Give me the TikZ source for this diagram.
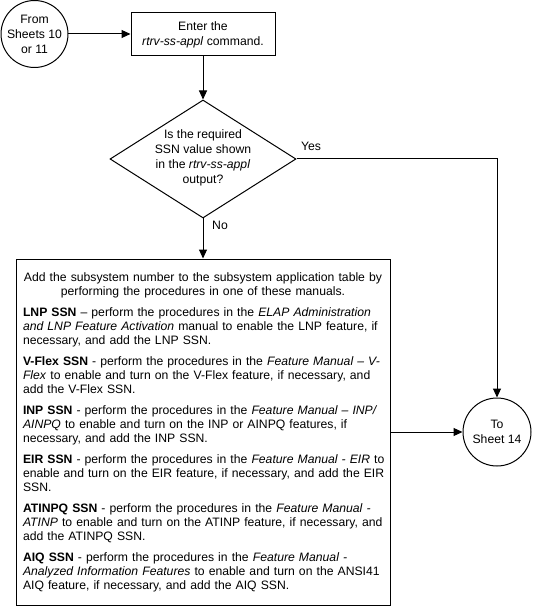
\documentclass[tikz,border=0pt]{standalone}
\usepackage{fontspec}
\setmainfont{Liberation Sans}
\usetikzlibrary{arrows.meta,shapes.geometric}
\begin{document}
\begin{tikzpicture}[x=1pt,y=-1pt,
  every node/.style={font=\fontsize{12.2}{15}\selectfont},
  arr/.style={line width=1pt,-{Triangle[length=9pt,width=8pt]}},
  conn/.style={draw,circle,line width=1pt,minimum size=66pt,inner sep=0pt,align=center},
  proc/.style={draw,rectangle,line width=1pt,minimum width=144pt,minimum height=43pt,inner sep=0pt,align=center},
  dec/.style={draw,diamond,line width=1pt,minimum width=186pt,minimum height=118pt,inner sep=0pt},
  txt/.style={inner sep=0pt,align=center},
  big/.style={draw,rectangle,line width=1pt,text width=372pt,inner xsep=1pt,inner ysep=0pt,minimum height=346pt,font=\fontsize{12.2}{14}\selectfont}
]
\useasboundingbox (0,0) rectangle (532,609);
\node[conn] (from) at (34.5,34) {From\\Sheets 10\\or 11};
\node[proc] (enter) at (203,34.5) {Enter the\\\textit{rtrv-ss-appl} command.};
\node[dec] (dec) at (203,159) {};
\node[txt] (dectext) at (203,157.5) {Is the required\\SSN value shown\\in the \textit{rtrv-ss-appl}\\output?};
\node[big] (add) at (203,432) {\parindent=0pt\parskip=7pt
\centering Add the subsystem number to the subsystem application table by\\
performing the procedures in one of these manuals.\par
\raggedright\leftskip=6pt
\textbf{LNP SSN} – perform the procedures in the \textit{ELAP Administration}\\
\textit{and LNP Feature Activation} manual to enable the LNP feature, if\\
necessary, and add the LNP SSN.\par
\textbf{V-Flex SSN} - perform the procedures in the \textit{Feature Manual – V-}\\
\textit{Flex} to enable and turn on the V-Flex feature, if necessary, and\\
add the V-Flex SSN.\par
\textbf{INP SSN} - perform the procedures in the \textit{Feature Manual – INP/}\\
\textit{AINPQ} to enable and turn on the INP or AINPQ features, if\\
necessary, and add the INP SSN.\par
\textbf{EIR SSN} - perform the procedures in the \textit{Feature Manual - EIR} to\\
enable and turn on the EIR feature, if necessary, and add the EIR\\
SSN.\par
\textbf{ATINPQ SSN} - perform the procedures in the \textit{Feature Manual -}\\
\textit{ATINP} to enable and turn on the ATINP feature, if necessary, and\\
add the ATINPQ SSN.\par
\textbf{AIQ SSN} - perform the procedures in the \textit{Feature Manual -}\\
\textit{Analyzed Information Features} to enable and turn on the ANSI41\\
AIQ feature, if necessary, and add the AIQ SSN.\par};
\node[conn,minimum size=68pt] (to) at (497,432) {To\\Sheet 14};
\node[txt] (yes) at (311,146) {Yes};
\node[txt] (no) at (220,225) {No};
\draw[arr] (from.east) -- (from.east -| enter.west);
\draw[arr] (enter.south) -- (dec.north);
\draw[arr] (dec.south) -- (add.north);
\draw[arr] (dec.east) -| (to.north);
\draw[arr] (add.east) -- (to.west);
\end{tikzpicture}
\end{document}
